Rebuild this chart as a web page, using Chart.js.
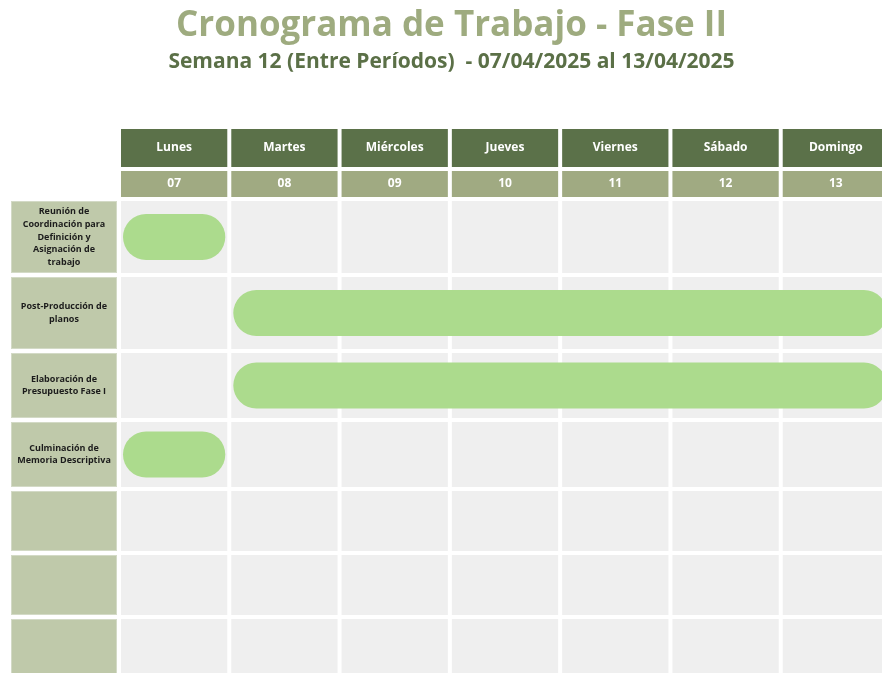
<!DOCTYPE html>
<html>
<head>
<meta charset="utf-8">
<script src="https://cdn.jsdelivr.net/npm/chart.js@4"></script>
<style>
  body { margin: 0; background: #fff; }
  #wrap { width: 882px; height: 673px; overflow: hidden; }
</style>
</head>
<body>
<div id="wrap"><canvas id="gantt" width="900" height="679"></canvas></div>
<script>
// Week columns
const days = ["Lunes", "Martes", "Miércoles", "Jueves", "Viernes", "Sábado", "Domingo"];
const dates = ["07", "08", "09", "10", "11", "12", "13"];

// Task rows (label lines), empty rows at the end
const tasks = [
  ["Reunión de", "Coordinación para", "Definición y", "Asignación de", "trabajo"],
  ["Post-Producción de", "planos"],
  ["Elaboración de", "Presupuesto Fase I"],
  ["Culminación de", "Memoria Descriptiva"],
  [], [], []
];
// Day index where each task starts / ends
const taskStart = [0, 1, 1, 0];
const taskEnd = [1, 7, 7, 1];

// Layout only: row heights in px
const rowHeights = [76, 76, 69, 69, 64, 64, 62];
const rowEdges = [0];
rowHeights.forEach(h => rowEdges.push(rowEdges[rowEdges.length - 1] + h));

// Draws header cells, label column and empty grid cells from the scales
const tablePlugin = {
  id: "table",
  beforeDatasetsDraw(chart) {
    const { ctx, chartArea, scales: { x, y } } = chart;
    const top = chartArea.top;
    ctx.save();
    ctx.textAlign = "center";
    ctx.textBaseline = "middle";

    days.forEach((d, i) => {
      const l = x.getPixelForValue(i) + 2;
      const r = x.getPixelForValue(i + 1) - 2;
      ctx.fillStyle = "#5b7149";
      ctx.fillRect(l, top - 70, r - l, 38);
      ctx.fillStyle = "#a0aa82";
      ctx.fillRect(l, top - 28, r - l, 26);
      ctx.fillStyle = "#ffffff";
      ctx.font = "bold 12px 'Open Sans'";
      ctx.fillText(d, (l + r) / 2, top - 51);
      ctx.fillText(dates[i], (l + r) / 2, top - 15);

      ctx.fillStyle = "#efefef";
      for (let k = 0; k < rowHeights.length; k++) {
        const t = y.getPixelForValue(rowEdges[k]) + 2;
        const b = y.getPixelForValue(rowEdges[k + 1]) - 2;
        ctx.fillRect(l, t, r - l, b - t);
      }
    });

    // label column
    const ll = chartArea.left - 108;
    tasks.forEach((lines, k) => {
      const t = y.getPixelForValue(rowEdges[k]) + 2;
      const b = y.getPixelForValue(rowEdges[k + 1]) - 2;
      ctx.fillStyle = "#bfc9aa";
      ctx.fillRect(ll, t, 106, b - t);
      ctx.strokeStyle = "#d3dac6";
      ctx.lineWidth = 1;
      ctx.strokeRect(ll + 0.5, t + 0.5, 105, b - t - 1);
      ctx.fillStyle = "#1c1c1c";
      ctx.font = "bold 9px 'Open Sans'";
      const lh = 12.7;
      const cy = (t + b) / 2 - (lines.length - 1) * lh / 2;
      lines.forEach((s, j) => ctx.fillText(s, ll + 53, cy + j * lh));
    });
    ctx.restore();
  }
};

const ctx = document.getElementById("gantt").getContext("2d");
const chart = new Chart(ctx, {
  type: "bar",
  data: {
    datasets: [
      {
        data: taskStart.map((s, i) => ({
          x: [s, taskEnd[i]],
          y: (rowEdges[i] + rowEdges[i + 1]) / 2
        })),
        backgroundColor: "#acdb8d",
        borderWidth: 0,
        borderSkipped: false,
        borderRadius: 23,
        barThickness: 54,
        inflateAmount: -4
      }
    ]
  },
  options: {
    indexAxis: "y",
    responsive: false,
    animation: false,
    layout: { padding: { left: 12, right: 9, top: 0, bottom: 0 } },
    scales: {
      x: {
        type: "linear",
        position: "top",
        min: 0,
        max: 7,
        offset: false,
        ticks: { display: false },
        grid: { display: false },
        border: { display: false },
        afterFit: (scale) => { scale.height = 124.8; }
      },
      y: {
        type: "linear",
        reverse: true,
        min: 0,
        max: rowEdges[rowEdges.length - 1],
        offset: false,
        ticks: { display: false },
        grid: { display: false },
        border: { display: false },
        afterFit: (scale) => { scale.width = 107; }
      }
    },
    plugins: {
      legend: { display: false },
      tooltip: { enabled: false },
      title: {
        display: true,
        text: "Cronograma de Trabajo - Fase II",
        color: "#9eab7f",
        font: { family: "Open Sans", size: 35, weight: "bold" },
        padding: { top: 5, bottom: 0 }
      },
      subtitle: {
        display: true,
        text: "Semana 12 (Entre Períodos)  - 07/04/2025 al 13/04/2025",
        color: "#5b7047",
        font: { family: "Open Sans", size: 21, weight: "bold" },
        padding: { top: 2, bottom: 0 }
      }
    }
  },
  plugins: [tablePlugin]
});
</script>
</body>
</html>
